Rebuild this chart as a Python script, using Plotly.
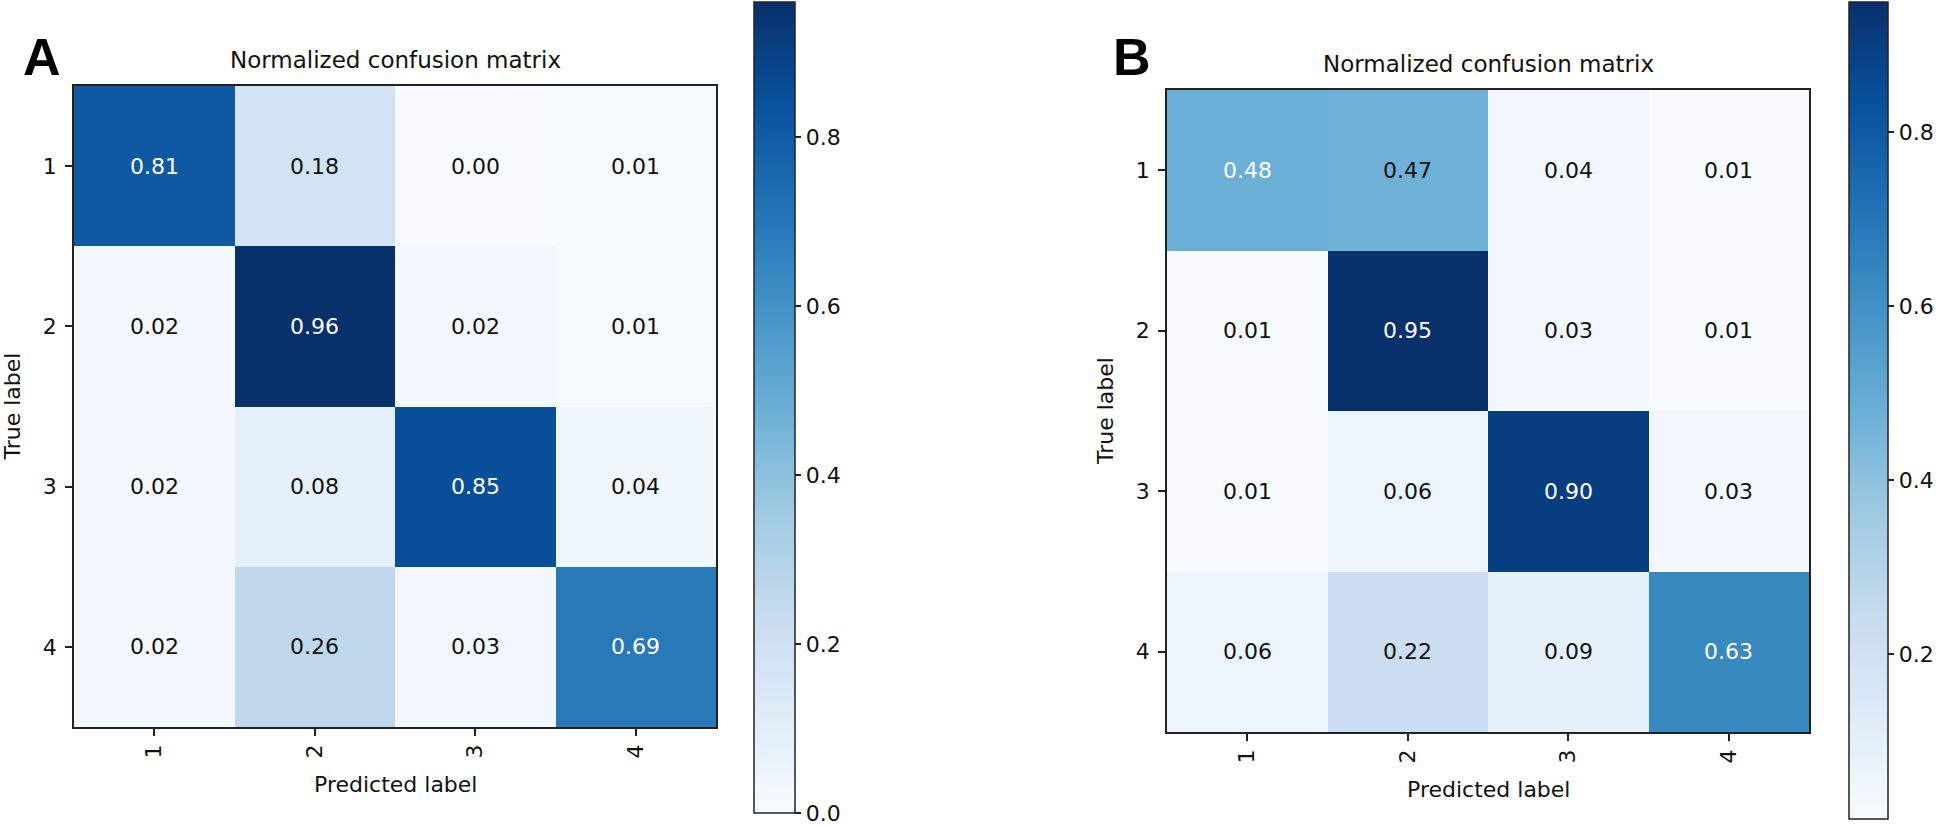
import plotly.graph_objects as go

labels = ["1", "2", "3", "4"]
matrix_a = [
    [0.81, 0.18, 0.00, 0.01],
    [0.02, 0.96, 0.02, 0.01],
    [0.02, 0.08, 0.85, 0.04],
    [0.02, 0.26, 0.03, 0.69],
]
matrix_b = [
    [0.48, 0.47, 0.04, 0.01],
    [0.01, 0.95, 0.03, 0.01],
    [0.01, 0.06, 0.90, 0.03],
    [0.06, 0.22, 0.09, 0.63],
]
panel_letters = ["A", "B"]
title_text = "Normalized confusion matrix"
cbar_ticks_a = [0.0, 0.2, 0.4, 0.6, 0.8]
cbar_ticks_b = [0.2, 0.4, 0.6, 0.8]

blues = ["rgb(247,251,255)", "rgb(222,235,247)", "rgb(198,219,239)",
         "rgb(158,202,225)", "rgb(107,174,214)", "rgb(66,146,198)",
         "rgb(33,113,181)", "rgb(8,81,156)", "rgb(8,48,107)"]
cscale = [[i / 8, c] for i, c in enumerate(blues)]

W, H = 1943, 826
FONT = "DejaVu Sans"
FS = 22

def px_x(v):
    return v / W

def px_y(v):
    return 1 - v / H

panels = [
    dict(m=matrix_a, ticks=cbar_ticks_a, box=(74, 716, 86, 727), cb=(754, 795, 2, 813),
         letter=(42, 57)),
    dict(m=matrix_b, ticks=cbar_ticks_b, box=(1167, 1809, 90, 732), cb=(1849, 1888, 2, 819),
         letter=(1132, 57)),
]

fig = go.Figure()
annotations = []
idx = list(range(len(labels)))
for k, p in enumerate(panels):
    m = p["m"]
    flat = [v for row in m for v in row]
    zmin, zmax = min(flat), max(flat)
    x0, x1, y0, y1 = p["box"]
    cx0, cx1, cy0, cy1 = p["cb"]
    xa = "x" if k == 0 else "x2"
    ya = "y" if k == 0 else "y2"
    fig.add_trace(go.Heatmap(
        z=m, x=idx, y=idx, colorscale=cscale, zmin=zmin, zmax=zmax,
        xaxis=xa, yaxis=ya, hoverinfo="skip",
        colorbar=dict(
            x=px_x(cx0), xanchor="left", xpad=0, xref="paper",
            y=px_y(cy0), yanchor="top", ypad=0, yref="paper",
            lenmode="pixels", len=cy1 - cy0, thickness=cx1 - cx0,
            outlinewidth=1.5, outlinecolor="#222",
            tickvals=p["ticks"], ticktext=["%.1f" % t for t in p["ticks"]],
            ticks="outside", ticklen=6, tickwidth=1.5, tickcolor="#222",
            tickfont=dict(family=FONT, size=FS, color="#111"),
        ),
    ))
    axis_common = dict(
        showline=True, linecolor="#222", linewidth=1.5, mirror=True,
        ticks="outside", ticklen=7, tickwidth=1.5, tickcolor="#222",
        tickvals=idx, ticktext=labels, showgrid=False, zeroline=False,
        tickfont=dict(family=FONT, size=FS, color="#111"), fixedrange=True,
    )
    xkey = "xaxis" if k == 0 else "xaxis2"
    ykey = "yaxis" if k == 0 else "yaxis2"
    fig.update_layout(**{
        xkey: dict(axis_common, domain=[px_x(x0), px_x(x1)], range=[-0.5, 3.5],
                   anchor=ya, tickangle=-90),
        ykey: dict(axis_common, domain=[px_y(y1), px_y(y0)], range=[3.5, -0.5],
                   anchor=xa, ticklabelstandoff=4),
    })
    thresh = zmax / 2
    for i in idx:
        for j in idx:
            v = m[i][j]
            annotations.append(dict(
                x=j, y=i, xref=xa, yref=ya, text="%.2f" % v, showarrow=False,
                xanchor="center", yanchor="middle",
                font=dict(family=FONT, size=FS, color="white" if v > thresh else "#111"),
            ))
    mid_x = (x0 + x1) / 2
    mid_y = (y0 + y1) / 2
    common = dict(xref="paper", yref="paper", showarrow=False,
                  xanchor="center", yanchor="middle")
    annotations.append(dict(common, x=px_x(mid_x), y=px_y(y0 - 26), text=title_text,
                            font=dict(family=FONT, size=FS + 1, color="#111")))
    annotations.append(dict(common, x=px_x(mid_x), y=px_y(y1 + 57), text="Predicted label",
                            font=dict(family=FONT, size=FS, color="#111")))
    annotations.append(dict(common, x=px_x(x0 - 62), y=px_y(mid_y), text="True label",
                            textangle=-90,
                            font=dict(family=FONT, size=FS, color="#111")))
    lx, ly = p["letter"]
    annotations.append(dict(common, x=px_x(lx), y=px_y(ly),
                            text="<b>%s</b>" % panel_letters[k],
                            font=dict(family="Liberation Sans", size=52, color="black")))

fig.update_layout(
    width=W, height=H, margin=dict(l=0, r=0, t=0, b=0),
    paper_bgcolor="white", plot_bgcolor="white",
    annotations=annotations, showlegend=False,
)
fig.write_html("out.html", config={"displayModeBar": False},
               post_script="document.body.style.margin='0';document.body.style.overflow='hidden';")
